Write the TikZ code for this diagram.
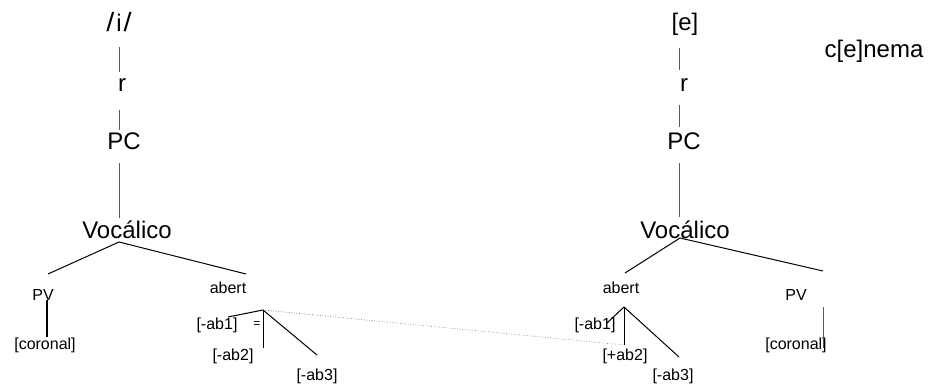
\documentclass[tikz,border=0pt]{standalone}
\usepackage{fontspec}
\setmainfont{Liberation Sans}
\begin{document}
\begin{tikzpicture}[x=1pt,y=-1pt,
  big/.style={font=\fontsize{24}{27}\selectfont, inner sep=0pt, anchor=base},
  small/.style={font=\fontsize{16}{19}\selectfont, inner sep=0pt, anchor=base},
  stem/.style={line width=0.8pt, draw=black!65},
  branch/.style={line width=1pt, draw=black},
  thickbar/.style={line width=2pt, draw=black},
  link/.style={line width=0.6pt, draw=black!70, dotted}]
\useasboundingbox (0,0) rectangle (930,385);

% ---------- left tree: /i/ ----------
\node[big] (iL)   at (119,32)  {\scalebox{1.2}[1.1]{/}\kern2pt i\kern2pt\scalebox{1.2}[1.1]{/}};
\node[big] (rL)   at (122,92)  {r};
\node[big] (pcL)  at (124,150) {PC};
\node[big] (vocL) at (127,238) {Vocálico};
\node[small] (pvL)  at (43,300)  {PV};
\node[small] (corL) at (45,349)  {[coronal]};
\node[small] (abL)  at (228,293) {abert};
\node[small] (ab1L) at (217,329) {[-ab1]};
\node[small] (ab2L) at (233,360) {[-ab2]};
\node[small] (ab3L) at (317,380) {[-ab3]};
\node[font=\fontsize{12}{13}\selectfont, inner sep=0pt] (eqL) at (257,325) {=};

\coordinate (l1a) at (119,47);  \coordinate (l1b) at (119,72);
\coordinate (l2a) at (119,110); \coordinate (l2b) at (119,130);
\coordinate (l3a) at (119,163); \coordinate (l3b) at (119,218);
\coordinate (lv)  at (119,242);
\coordinate (lpv) at (48,274);  \coordinate (lab) at (246,274);
\coordinate (lpvt) at (47,300); \coordinate (lpvb) at (47,337);
\coordinate (ljn) at (263,310);
\coordinate (lab1) at (228,317);
\coordinate (lab2) at (263,348);
\coordinate (lab3) at (317,355);

\draw[stem] (l1a) -- (l1b);
\draw[stem] (l2a) -- (l2b);
\draw[stem] (l3a) -- (l3b);
\draw[branch] (lpv) -- (lv) -- (lab);
\draw[thickbar] (lpvt) -- (lpvb);
\draw[branch] (lab1) -- (ljn) -- (lab3);
\draw[branch] (ljn) -- (lab2);

% ---------- right tree: [e] ----------
\node[big] (eR)   at (685,31)  {[e]};
\node[big] (rR)   at (684,92)  {r};
\node[big] (pcR)  at (684,150) {PC};
\node[big] (vocR) at (685,238) {Vocálico};
\node[big] (word) at (874,58)  {c[e]nema};
\node[small] (abR)  at (621,293) {abert};
\node[small] (pvR)  at (796,300) {PV};
\node[small] (corR) at (796,349) {[coronal]};
\node[small] (ab1R) at (595,329) {[-ab1]};
\node[small] (ab2R) at (625,360) {[+ab2]};
\node[small] (ab3R) at (673,380) {[-ab3]};

\coordinate (r1a) at (679,48);  \coordinate (r1b) at (679,70);
\coordinate (r2a) at (679,105); \coordinate (r2b) at (679,127);
\coordinate (r3a) at (679,163); \coordinate (r3b) at (679,217);
\coordinate (rv)  at (680,238);
\coordinate (rab) at (625,273); \coordinate (rpv) at (823,271);
\coordinate (rjn) at (624,307);
\coordinate (rab1) at (607,323);
\coordinate (rab2) at (624,345);
\coordinate (rab3) at (679,357);
\coordinate (rpvt) at (823,307); \coordinate (rpvb) at (823,348);

\draw[stem] (r1a) -- (r1b);
\draw[stem] (r2a) -- (r2b);
\draw[stem] (r3a) -- (r3b);
\draw[branch] (rab) -- (rv) -- (rpv);
\draw[branch] (rab1) -- (rjn) -- (rab3);
\draw[branch] (rjn) -- (rab2);
\draw[stem] (rpvt) -- (rpvb);

% ---------- spreading link between the two aperture nodes ----------
\draw[link] (ljn) -- (rab2);
\end{tikzpicture}
\end{document}
